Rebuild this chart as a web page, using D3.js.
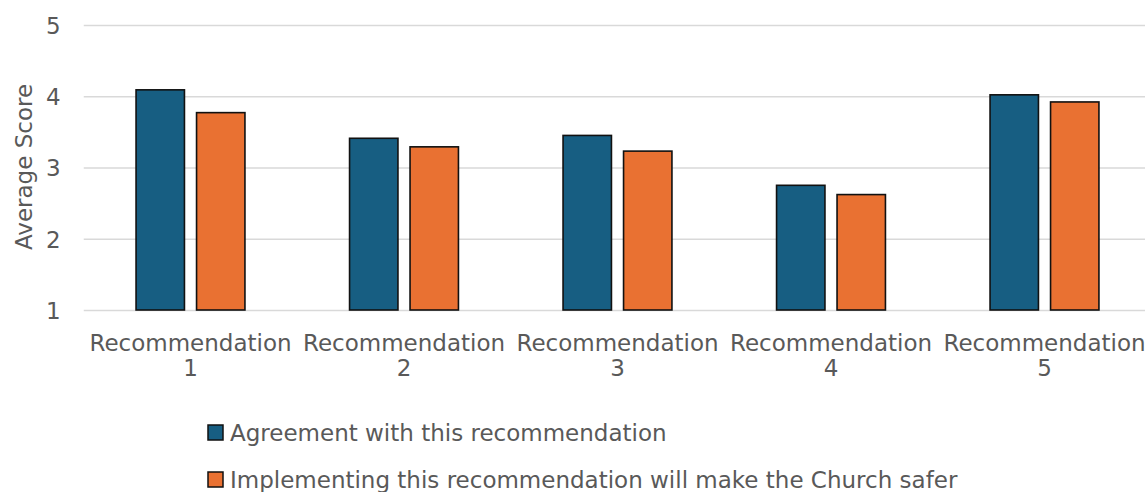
<!DOCTYPE html>
<html>
<head>
<meta charset="utf-8">
<script src="https://cdn.jsdelivr.net/npm/d3@7"></script>
<style>
  html, body { margin: 0; padding: 0; background: #fff; }
  svg { display: block; }
</style>
</head>
<body>
<svg id="chart" width="1145" height="492"></svg>
<script>
const categories = ["Recommendation 1", "Recommendation 2", "Recommendation 3", "Recommendation 4", "Recommendation 5"];
const seriesNames = ["Agreement with this recommendation", "Implementing this recommendation will make the Church safer"];
const agreement = [4.09, 3.41, 3.45, 2.75, 4.02];
const safer = [3.77, 3.29, 3.23, 2.62, 3.92];
const yTicks = [1, 2, 3, 4, 5];
const colors = ["#175E82", "#E97132"];

const values = [agreement, safer];
const data = categories.map((c, i) => ({ cat: c, vals: seriesNames.map((s, j) => ({ s, v: values[j][i] })) }));

const svg = d3.select("#chart");
const font = "DejaVu Sans, Verdana, sans-serif";
const textColor = "#595959";
const fs = 23;

const plotLeft = 83.75, plotRight = 1151.25, plotTop = 25, plotBottom = 310;

const x = d3.scaleBand().domain(categories).range([plotLeft, plotRight]).paddingInner(0).paddingOuter(0);
const bw = x.bandwidth();
const x1 = d3.scaleBand().domain(seriesNames).range([bw * 0.245, bw * 0.755]).paddingInner(0.2);
const y = d3.scaleLinear().domain([1, 5]).range([plotBottom, plotTop]);

// gridlines
const yAxis = d3.axisLeft(y).tickValues(yTicks).tickSize(-(plotRight - plotLeft)).tickFormat(d3.format("d"));
const gy = svg.append("g").attr("transform", `translate(${plotLeft},0)`).call(yAxis);
gy.select(".domain").remove();
gy.selectAll(".tick line").attr("stroke", "#d9d9d9").attr("stroke-width", 1.5);
gy.selectAll(".tick text").attr("fill", textColor).attr("font-family", font).attr("font-size", fs)
  .attr("x", -23).attr("dy", "0.36em");

// bars
const groups = svg.append("g").selectAll("g").data(data).join("g")
  .attr("transform", d => `translate(${x(d.cat)},0)`);
groups.selectAll("rect").data(d => d.vals).join("rect")
  .attr("x", d => x1(d.s))
  .attr("y", d => y(d.v))
  .attr("width", x1.bandwidth())
  .attr("height", d => y(1) - y(d.v))
  .attr("fill", (d, i) => colors[i])
  .attr("stroke", "#111")
  .attr("stroke-width", 1.6);

// x axis labels
const xAxis = d3.axisBottom(x).tickSize(0).tickPadding(0);
const gx = svg.append("g").attr("transform", `translate(0,${plotBottom})`).call(xAxis);
gx.select(".domain").remove();
gx.selectAll(".tick text").each(function(d) {
  const t = d3.select(this);
  const parts = d.split(" ");
  t.text(null).attr("y", 0).attr("dy", null)
    .attr("fill", textColor).attr("font-family", font).attr("font-size", fs);
  t.append("tspan").attr("x", 0).attr("y", 41).text(parts[0]);
  t.append("tspan").attr("x", 0).attr("y", 66).text(parts[1]);
});

// y title
svg.append("text")
  .attr("transform", `translate(32,167) rotate(-90)`)
  .attr("text-anchor", "middle")
  .attr("fill", textColor).attr("font-family", font).attr("font-size", fs)
  .text("Average Score");

// legend
const legend = svg.append("g");
const legendRows = legend.selectAll("g").data(seriesNames).join("g")
  .attr("transform", (d, i) => `translate(208,${425 + i * 47})`);
legendRows.append("rect")
  .attr("width", 15).attr("height", 15)
  .attr("fill", (d, i) => colors[i])
  .attr("stroke", "#111").attr("stroke-width", 1.5);
legendRows.append("text")
  .attr("x", 22).attr("y", 16)
  .attr("fill", textColor).attr("font-family", font).attr("font-size", fs)
  .text(d => d);
</script>
</body>
</html>
